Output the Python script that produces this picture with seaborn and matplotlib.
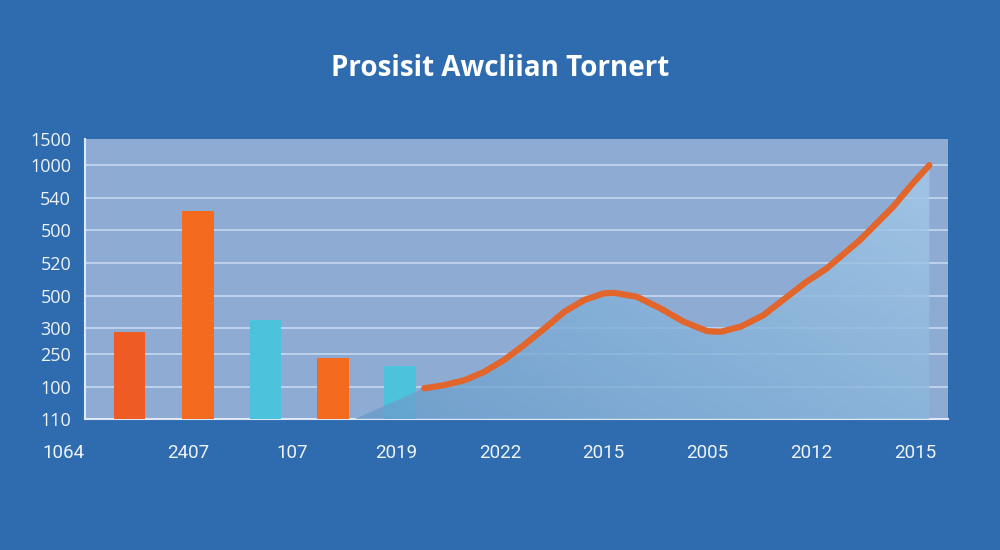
import matplotlib
matplotlib.use("Agg")
import matplotlib.pyplot as plt
from matplotlib.patches import Polygon
import numpy as np
import pandas as pd
import seaborn as sns

# values (arbitrary 0-100 panel scale)
title = "Prosisit Awcliian Tornert"
x_labels = ["1064", "2407", "107", "2019", "2022", "2015", "2005", "2012", "2015"]
y_labels = ["110", "100", "250", "300", "500", "520", "500", "540", "1000", "1500"]
y_label_pos = [0, 11.4, 23.2, 32.5, 43.9, 55.7, 67.5, 78.9, 90.7, 100]

bar_x = [0.43, 1.09, 1.74, 2.39, 3.04]
bar_values = [31.1, 74.3, 35.4, 21.8, 18.9]
bar_names = ["b1", "b2", "b3", "b4", "b5"]
bar_colors = ["#EE5B24", "#F46B20", "#4DC2DC", "#F46B20", "#4DC2DC"]

line_x = [3.27, 3.46, 3.66, 3.85, 4.04, 4.23, 4.43, 4.62, 4.81, 5.00, 5.10, 5.32,
          5.55, 5.77, 6.00, 6.13, 6.32, 6.54, 6.77, 6.95, 7.15, 7.47, 7.79, 7.98, 8.14]
line_y = [11.0, 12.1, 13.9, 16.9, 21.1, 26.4, 32.4, 38.3, 42.5, 44.9, 45.1, 43.7,
          39.5, 34.8, 31.4, 31.2, 33.0, 37.1, 43.7, 48.9, 53.8, 63.9, 75.8, 84.2, 90.7]
area_start_x = 2.6

BG = "#2F6CAF"
PANEL = "#8EABD4"
TXT = "#EEF3FA"

sns.set_theme(style="white")
plt.rcParams["font.family"] = ["Open Sans", "DejaVu Sans"]

fig = plt.figure(figsize=(10, 5.5), dpi=100)
fig.patch.set_facecolor(BG)
ax = fig.add_axes([0.085, 0.238, 0.863, 0.509])
ax.set_facecolor(PANEL)

bars = pd.DataFrame({"x": bar_x, "value": bar_values, "name": bar_names})
sns.barplot(data=bars, x="x", y="value", hue="name", palette=bar_colors,
            native_scale=True, dodge=False, legend=False, width=0.47,
            saturation=1, linewidth=0, edgecolor="none", ax=ax, zorder=3)

# shaded area under the curve with a soft gradient
ax.set_xlim(0, 8.32)
ax.set_ylim(0, 100)
poly_pts = [(area_start_x, 0)] + list(zip(line_x, line_y)) + [(line_x[-1], 0)]
poly = Polygon(poly_pts, closed=True, facecolor="none", edgecolor="none")
ax.add_patch(poly)
gx, gy = np.meshgrid(np.linspace(0, 1, 200), np.linspace(0, 1, 100))
t = np.clip(0.55 * gx + 0.45 * gy, 0, 1)
c0 = np.array([104, 156, 202]) / 255
c1 = np.array([168, 205, 234]) / 255
img = c0[None, None, :] * (1 - t[..., None]) + c1[None, None, :] * t[..., None]
im = ax.imshow(img, extent=[area_start_x, line_x[-1], 0, 100], origin="lower",
               aspect="auto", zorder=4, alpha=0.8)
im.set_clip_path(poly)

sns.lineplot(x=line_x, y=line_y, color="#E2652C", linewidth=4.5, ax=ax,
             zorder=5, solid_capstyle="round")

ax.set_xlim(0, 8.32)
ax.set_ylim(0, 100)
ax.set_xticks(range(len(x_labels)))
ax.set_xticklabels(x_labels, family=["Roboto", "DejaVu Sans"], fontsize=13.5, color=TXT)
ax.get_xticklabels()[0].set_horizontalalignment("right")
ax.set_yticks(y_label_pos)
ax.set_yticklabels(y_labels, fontsize=13, color=TXT)
ax.set_xlabel("")
ax.set_ylabel("")
for y in y_label_pos[1:-1]:
    ax.axhline(y, color="#C3D4EC", linewidth=1.3, zorder=1)

ax.tick_params(axis="both", colors="#DDE7F5", length=6, width=1.3, direction="out")
ax.tick_params(axis="x", pad=12, labelcolor=TXT)
ax.tick_params(axis="y", pad=4, labelcolor=TXT)
for side in ["top", "right"]:
    ax.spines[side].set_visible(False)
for side in ["left", "bottom"]:
    ax.spines[side].set_color("#DDE7F5")
    ax.spines[side].set_linewidth(1.5)

fig.text(0.5, 1 - 68 / 550, title, ha="center", va="center", color="white",
         fontsize=20, fontweight="bold")

fig.savefig("out.png", dpi=100, facecolor=BG)
